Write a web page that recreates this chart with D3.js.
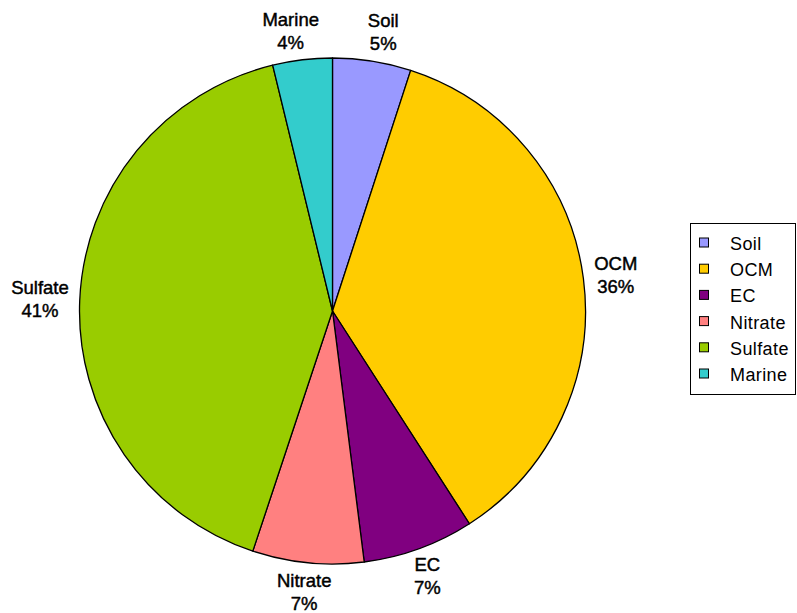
<!DOCTYPE html>
<html><head><meta charset="utf-8">
<script src="https://cdn.jsdelivr.net/npm/d3@7"></script>
<style>body{margin:0;background:#fff}svg{display:block}</style>
</head><body>
<script>
const categories = ["Soil","OCM","EC","Nitrate","Sulfate","Marine"];
const values = [5.0, 35.9, 7.1, 7.1, 41.1, 3.8];
const labels = ["5%","36%","7%","7%","41%","4%"];
const colors = ["#9999ff","#ffcc00","#800080","#ff8080","#99cc00","#33cccc"];

const W = 797, H = 613;
const cx = 332.5, cy = 311, R = 253;
const svg = d3.select("body").append("svg").attr("width", W).attr("height", H);
const font = "'Liberation Sans', Arial, sans-serif";

const pie = d3.pie().sort(null).value(d => d.v);
const data = pie(categories.map((c, i) => ({c, v: values[i], l: labels[i], col: colors[i]})));
const arc = d3.arc().innerRadius(0).outerRadius(R);
const g = svg.append("g").attr("transform", `translate(${cx},${cy})`);
g.selectAll("path").data(data).join("path")
  .attr("d", arc).attr("fill", d => d.data.col)
  .attr("stroke", "#000").attr("stroke-width", 1.3).attr("stroke-linejoin", "round");

const gap = 7, hh = 22.5;
const lab = g.selectAll("text.lab").data(data).join("text").attr("class", "lab")
  .attr("font-family", font).attr("font-size", 18.5).attr("text-anchor", "middle")
  .attr("fill", "#000").attr("stroke", "#000").attr("stroke-width", 0.45);
lab.append("tspan").attr("x", 0).attr("y", -5).text(d => d.data.c);
lab.append("tspan").attr("x", 0).attr("y", 18).text(d => d.data.l);
lab.attr("transform", function(d) {
  const a = (d.startAngle + d.endAngle) / 2;
  const hw = this.getBBox().width / 2;
  const s = Math.sin(a), c = Math.cos(a);
  let x = (R + gap + 4) * s + hw * s;
  if (c > 0.5) x += 7 * Math.sign(s);
  const y = -(R + gap) * c - hh * c;
  return `translate(${x},${y})`;
});

// legend
const lg = svg.append("g");
lg.append("rect").attr("x", 690.5).attr("y", 223.5).attr("width", 105).attr("height", 171)
  .attr("fill", "#fff").attr("stroke", "#000").attr("stroke-width", 1);
const rowY = d3.scaleLinear().domain([0, 5]).range([242.5, 373.5]);
categories.forEach((c, i) => {
  lg.append("rect").attr("x", 699.5).attr("y", rowY(i) - 4.5).attr("width", 9).attr("height", 9)
    .attr("fill", colors[i]).attr("stroke", "#000").attr("stroke-width", 1);
  lg.append("text").attr("x", 730).attr("y", rowY(i) + 7.5).attr("font-family", font)
    .attr("font-size", 18).attr("letter-spacing", 0.4).text(c);
});
</script>
</body></html>
